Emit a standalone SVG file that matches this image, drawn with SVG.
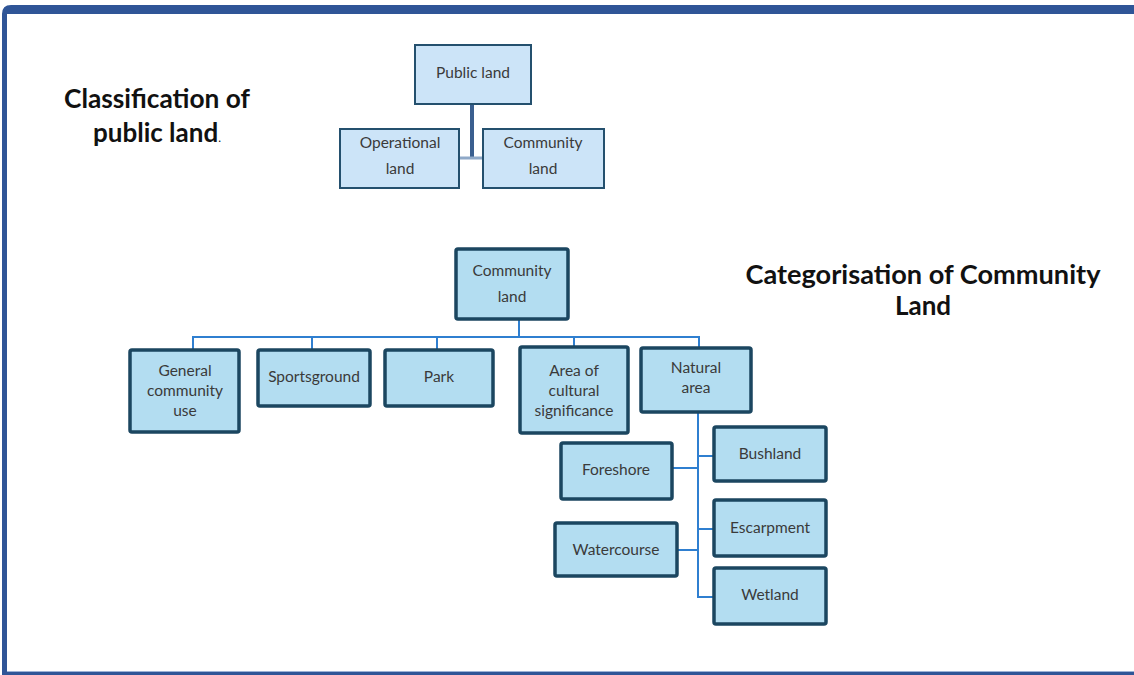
<svg xmlns="http://www.w3.org/2000/svg" width="1134" height="675" viewBox="0 0 1134 675">
<style>
.t{font-family:Lato,"Open Sans","Liberation Sans",sans-serif;font-size:15.5px;fill:#3a3a3a;text-anchor:middle}
.h{font-family:Lato,"Open Sans","Liberation Sans",sans-serif;font-size:26px;font-weight:bold;fill:#111;text-anchor:middle}
.n1{fill:#cce4f8;stroke:#24506e;stroke-width:2}
.n2{fill:#b3ddf1;stroke:#1b4660;stroke-width:3.5}
.c2{stroke:#2f7fd0;stroke-width:2;fill:none}
</style>
<rect x="0" y="0" width="1134" height="675" fill="#fff"/>
<g id="frame">
<path d="M2 675 V14 Q2 5 11 5 H1134 V14 H7 V675 Z" fill="#2f5597"/>
<rect x="7" y="671" width="1127" height="1" fill="#9db3d6"/>
<rect x="7" y="672" width="1127" height="3" fill="#2f5597"/>
</g>
<text class="h" x="157" y="108" textLength="186" lengthAdjust="spacingAndGlyphs">Classification of</text>
<text class="h" x="157" y="142">public land<tspan font-size="12" font-weight="normal">.</tspan></text>
<text class="h" x="923" y="284" textLength="355" lengthAdjust="spacingAndGlyphs">Categorisation of Community</text>
<text class="h" x="923" y="315">Land</text>
<g id="connectors">
<line x1="472" y1="104" x2="472" y2="159" stroke="#3a5f8f" stroke-width="4"/>
<line x1="459" y1="158" x2="483" y2="158" stroke="#8fa9c8" stroke-width="3"/>
<path class="c2" d="M519 320 V337 M193 349 V337 H699 V347 M312 337 V349 M437 337 V349 M574 337 V346"/>
<path class="c2" d="M698 413 V597 H713 M698 456 H713 M673 468 H698 M698 529 H713 M678 550 H698"/>
</g>
<g id="public-land"><rect class="n1" x="415" y="45" width="116" height="59"/><text class="t" x="473" y="78">Public land</text></g>
<g id="operational-land"><rect class="n1" x="340" y="129" width="119" height="59"/><text class="t" x="400" y="148">Operational</text><text class="t" x="400" y="174">land</text></g>
<g id="community-land-top"><rect class="n1" x="483" y="129" width="121" height="59"/><text class="t" x="543" y="148">Community</text><text class="t" x="543" y="174">land</text></g>
<g id="community-land"><rect class="n2" x="456" y="249" width="112" height="70" rx="2"/><text class="t" x="512" y="276">Community</text><text class="t" x="512" y="302">land</text></g>
<g id="general-community-use"><rect class="n2" x="130" y="350" width="109" height="82" rx="2"/><text class="t" x="185" y="376">General</text><text class="t" x="185" y="396">community</text><text class="t" x="185" y="416">use</text></g>
<g id="sportsground"><rect class="n2" x="258" y="350" width="112" height="56" rx="2"/><text class="t" x="314" y="382">Sportsground</text></g>
<g id="park"><rect class="n2" x="385" y="350" width="108" height="56" rx="2"/><text class="t" x="439" y="382">Park</text></g>
<g id="area-cultural"><rect class="n2" x="520" y="347" width="108" height="86" rx="2"/><text class="t" x="574" y="376">Area of</text><text class="t" x="574" y="396">cultural</text><text class="t" x="574" y="416">significance</text></g>
<g id="natural-area"><rect class="n2" x="641" y="348" width="110" height="64" rx="2"/><text class="t" x="696" y="373">Natural</text><text class="t" x="696" y="393">area</text></g>
<g id="bushland"><rect class="n2" x="714" y="427" width="112" height="54" rx="2"/><text class="t" x="770" y="459">Bushland</text></g>
<g id="foreshore"><rect class="n2" x="561" y="443" width="111" height="56" rx="2"/><text class="t" x="616" y="475">Foreshore</text></g>
<g id="escarpment"><rect class="n2" x="714" y="500" width="112" height="56" rx="2"/><text class="t" x="770" y="533">Escarpment</text></g>
<g id="watercourse"><rect class="n2" x="555" y="523" width="122" height="53" rx="2"/><text class="t" x="616" y="555">Watercourse</text></g>
<g id="wetland"><rect class="n2" x="714" y="568" width="112" height="56" rx="2"/><text class="t" x="770" y="600">Wetland</text></g>
</svg>
